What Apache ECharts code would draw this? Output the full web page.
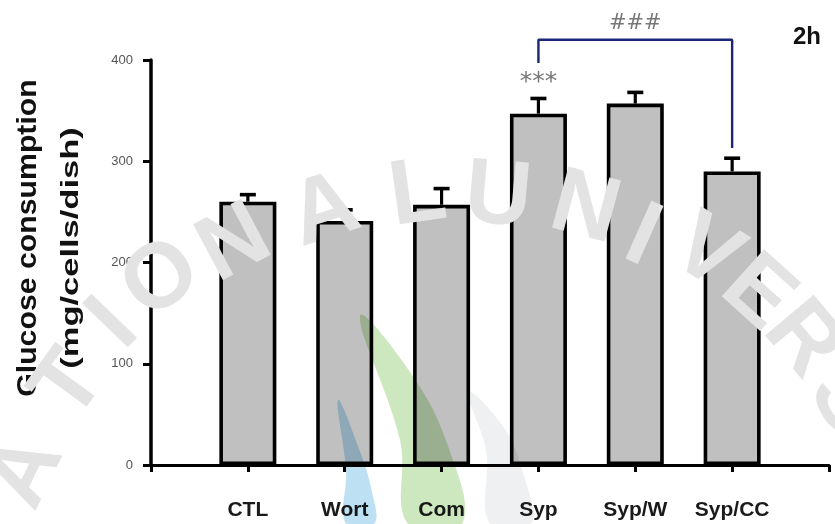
<!DOCTYPE html>
<html>
<head>
<meta charset="utf-8">
<script src="https://cdn.jsdelivr.net/npm/echarts@6/dist/echarts.min.js"></script>
<style>
  html, body { margin: 0; padding: 0; background: #ffffff; }
  #chart { width: 835px; height: 524px; }
</style>
</head>
<body>
<div id="chart"></div>
<script>
// Treatment groups and glucose consumption (mean and SEM), 2 h
const groups = ['CTL', 'Wort', 'Com', 'Syp', 'Syp/W', 'Syp/CC'];
const means = [260, 241, 257, 347, 357, 290];
const sems = [7, 11, 16, 15, 11, 13];
const yTicks = [0, 100, 200, 300, 400];

// Significance bracket between Syp and Syp/CC
const bracketFrom = 'Syp';
const bracketTo = 'Syp/CC';
const bracketTop = 420;
const bracketLeftEnd = 397;
const bracketRightEnd = 313;
const starText = '***';
const starValue = 378;
const hashText = '###';
const hashValue = 436;
const panelTag = '2h';

// Faint repository watermark letters along an arc: [char, x, y, rotation in degrees]
const markLetters = [
  ['A', 26, 472, -64], ['T', 70, 386, -54], ['I', 114, 325, -46], ['O', 162, 280, -38],
  ['N', 235, 245, -28], ['A', 325, 212, -18], ['L', 418, 196, -8],
  ['U', 498, 198, 5], ['N', 585, 210, 15], ['I', 642, 238, 24], ['V', 706, 254, 32],
  ['E', 757, 294, 42], ['R', 802, 340, 50], ['S', 845, 402, 58]
];

// The x axis spans one empty slot on each side of the groups
const axisCats = [''].concat(groups, ['']);
const idx = g => groups.indexOf(g) + 1;

const barData = ['-'].concat(means, ['-']);
const errData = groups.map((g, i) => [i + 1, means[i], means[i] + sems[i]]);

const watermark = markLetters.map(([ch, x, y, deg]) => ({
  type: 'text',
  x: x, y: y,
  rotation: -deg * Math.PI / 180,
  z: 50,
  silent: true,
  style: {
    text: ch,
    fill: '#e3e3e3',
    blend: 'multiply',
    font: 'bold 92px "Liberation Sans", Arial, sans-serif',
    align: 'center', verticalAlign: 'middle'
  }
}));

// Emblem leaves of the watermark
const leaves = [
  { p: [[338, 400], [358, 446], [372, 492], [374, 524], [346, 524], [346, 470]], c: '#bde0f3' },
  { p: [[360, 316], [410, 372], [448, 446], [462, 524], [408, 524], [400, 440]], c: '#cde7bf' },
  { p: [[468, 392], [504, 428], [524, 476], [531, 524], [490, 524], [486, 450]], c: '#eef0f2' }
].map(l => ({
  type: 'polygon', z: 49, silent: true,
  shape: { points: l.p, smooth: 0.4 },
  style: { fill: l.c, blend: 'multiply' }
}));

const chart = echarts.init(document.getElementById('chart'), null, { renderer: 'canvas' });

chart.setOption({
  animation: false,
  backgroundColor: '#ffffff',
  grid: { left: 151, right: 6, top: 60, bottom: 59, containLabel: false },
  xAxis: {
    type: 'category',
    data: axisCats,
    boundaryGap: false,
    axisLine: { lineStyle: { color: '#000', width: 3 } },
    axisTick: { show: true, length: 7, interval: 0, lineStyle: { color: '#000', width: 3 } },
    axisLabel: {
      interval: 0,
      margin: 35,
      color: '#1a1a1a',
      fontFamily: 'Liberation Sans, Arial, sans-serif',
      fontWeight: 'bold',
      fontSize: 21
    },
    splitLine: { show: false }
  },
  yAxis: {
    type: 'value',
    min: yTicks[0],
    max: yTicks[yTicks.length - 1],
    interval: yTicks[1] - yTicks[0],
    axisLine: { show: true, lineStyle: { color: '#000', width: 3.5 } },
    axisTick: { show: true, length: 8, lineStyle: { color: '#000', width: 3 } },
    axisLabel: {
      margin: 18,
      color: '#555',
      fontFamily: 'Liberation Sans, Arial, sans-serif',
      fontSize: 13
    },
    splitLine: { show: false }
  },
  series: [
    {
      type: 'bar',
      data: barData,
      barWidth: 57,
      itemStyle: { color: '#c0c0c0', borderColor: '#000', borderWidth: 3.6 },
      z: 2
    },
    {
      type: 'custom',
      data: errData,
      z: 3,
      renderItem: function (params, api) {
        const x = api.value(0);
        const base = api.coord([x, api.value(1)]);
        const top = api.coord([x, api.value(2)]);
        return {
          type: 'group',
          children: [
            { type: 'line', shape: { x1: top[0], y1: base[1], x2: top[0], y2: top[1] },
              style: { stroke: '#000', lineWidth: 3.2 } },
            { type: 'line', shape: { x1: top[0] - 8, y1: top[1], x2: top[0] + 8, y2: top[1] },
              style: { stroke: '#000', lineWidth: 3.6 } }
          ]
        };
      }
    },
    {
      type: 'line',
      clip: false,
      symbol: 'none',
      lineStyle: { color: '#1c2677', width: 2.4 },
      data: [
        [idx(bracketFrom), bracketLeftEnd],
        [idx(bracketFrom), bracketTop],
        [idx(bracketTo), bracketTop],
        [idx(bracketTo), bracketRightEnd]
      ],
      z: 4
    },
    {
      type: 'scatter',
      clip: false,
      symbolSize: 0,
      data: [
        { value: [idx(bracketFrom), starValue], name: starText, label: { fontSize: 25 } },
        { value: [(idx(bracketFrom) + idx(bracketTo)) / 2 + 0.08, hashValue], name: hashText, label: { fontSize: 21 } }
      ],
      label: {
        show: true,
        position: 'inside',
        formatter: p => p.name,
        color: '#555',
        fontFamily: 'DejaVu Sans, sans-serif'
      },
      z: 5
    }
  ],
  graphic: leaves.concat(watermark, [
    {
      type: 'text', left: 793, top: 25,
      style: { text: panelTag, fill: '#111', font: 'bold 24px "Liberation Sans", Arial, sans-serif' }
    },
    {
      type: 'text', x: 29, y: 238, rotation: Math.PI / 2, scaleX: 1.12,
      style: {
        text: 'Glucose consumption', fill: '#111',
        font: 'bold 27px "Liberation Sans", Arial, sans-serif',
        align: 'center', verticalAlign: 'middle'
      }
    },
    {
      type: 'text', x: 72, y: 248, rotation: Math.PI / 2, scaleX: 1.5,
      style: {
        text: '(mg/cells/dish)', fill: '#111',
        font: 'bold 23px "Liberation Sans", Arial, sans-serif',
        align: 'center', verticalAlign: 'middle'
      }
    }
  ])
});
</script>
</body>
</html>
